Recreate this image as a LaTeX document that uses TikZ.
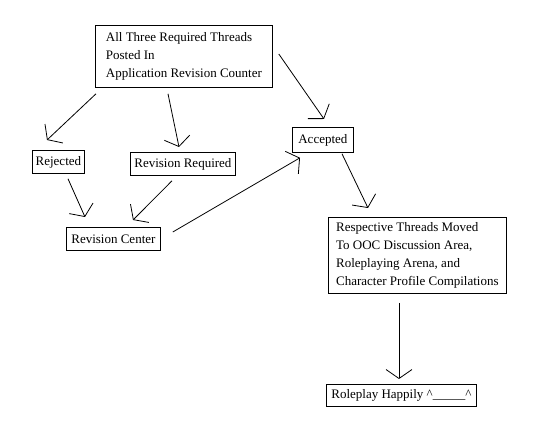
\documentclass[tikz,border=0pt]{standalone}
\usepackage{fontspec}
\setmainfont{Liberation Serif}
\usetikzlibrary{arrows.meta}

\begin{document}
\begin{tikzpicture}[->,>={Straight Barb[length=9pt,width=26pt]},x=1pt,y=-1pt,
                    line width=0.8pt]
  \tikzstyle{box}=[draw=black,text=black,anchor=north west,align=left,
                   inner sep=0pt,font=\fontsize{13}{18}\selectfont]
  \useasboundingbox (0,0) rectangle (544,430);

  \node[box,minimum width=177,minimum height=62] (T) at (95,25)
        {All Three Required Threads\\Posted In\\Application Revision Counter};
  \node[box,minimum width=52,minimum height=23] (J) at (32,150) {Rejected};
  \node[box,minimum width=105,minimum height=23] (Q) at (130,152) {Revision Required};
  \node[box,minimum width=94,minimum height=23] (C) at (66,227) {Revision Center};
  \node[box,minimum width=61,minimum height=25] (A) at (292,127) {Accepted};
  \node[box,minimum width=178,minimum height=76] (M) at (328,217)
        {Respective Threads Moved\\To OOC Discussion Area,\\Roleplaying Arena, and\\Character Profile Compilations};
  \node[box,minimum width=150,minimum height=22] (H) at (326,384) {Roleplay Happily \^{}\_\_\_\_\_\^{}};

  \draw ([shift={(1,6)}]T.south west) -- ([shift={(15,-10)}]J.north west);
  \draw ([shift={(73,6)}]T.south west) -- ([shift={(49,-5)}]Q.north west);
  \draw ([shift={(6,29)}]T.north east) -- ([shift={(32,-8)}]A.north west);
  \draw ([shift={(36,5)}]J.south west) -- ([shift={(19,-10)}]C.north west);
  \draw ([shift={(42,5)}]Q.south west) -- ([shift={(67,-7)}]C.north west);
  \draw ([shift={(12,5)}]C.north east) -- ([shift={(8,5)}]A.south west);
  \draw ([shift={(50,1)}]A.south west) -- ([shift={(40,-9)}]M.north west);
  \draw ([shift={(71,9)}]M.south west) -- ([shift={(73,-5)}]H.north west);
\end{tikzpicture}
\end{document}
